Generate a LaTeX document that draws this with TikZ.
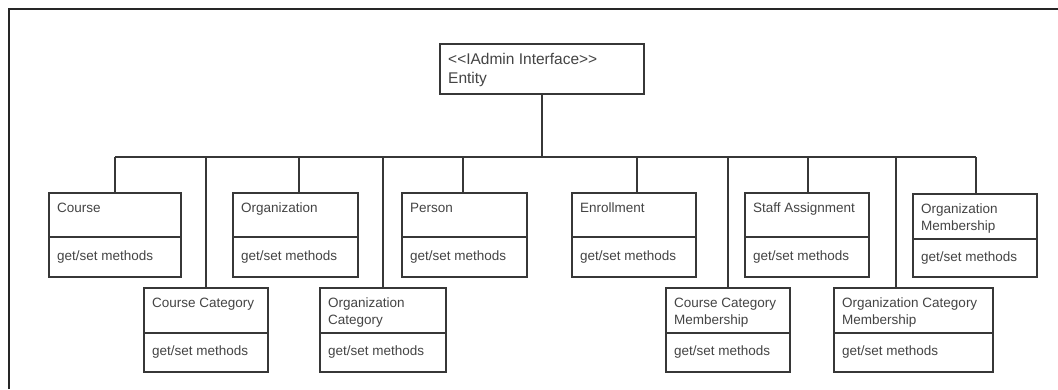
\documentclass[tikz,border=0pt]{standalone}
\usepackage{fontspec}
\setmainfont{Liberation Sans}
\definecolor{linec}{RGB}{55,55,55}
\definecolor{txtc}{RGB}{68,68,68}
\tikzset{
  ln/.style={draw=linec, line width=1.6pt},
  clsbox/.style={ln, rectangle, inner sep=0pt, outer sep=0pt, fill=white},
  ttl/.style={text=txtc, font=\fontsize{13.5}{16.5}\selectfont, align=left, inner sep=0pt},
  meth/.style={text=txtc, font=\fontsize{13.5}{16.5}\selectfont, inner sep=0pt, anchor=west},
  frame/.style={draw=black!85, line width=2pt},
}
\newcommand{\umlclass}[7]{%
  \node[clsbox, anchor=north west, minimum width={(#4-#2)*1pt}, minimum height={(#5-#3)*1pt}] (#1) at (#2,#3) {};
  \coordinate (#1-dl) at (#2,#6);
  \coordinate (#1-dr) at (#4,#6);
  \draw[ln] (#1-dl) -- (#1-dr);
  \node[ttl, anchor=north west] (#1-t) at ({#2+8},{#3+10}) {#7};
  \node[meth] (#1-m) at ({#2+8},{(#6+#5)/2}) {get/set methods};
}
\begin{document}
\begin{tikzpicture}[x=1pt,y=-1pt]
\useasboundingbox[fill=white] (0,0) rectangle (1058,389);
% frame
\coordinate (fbl) at (9,389);
\coordinate (ftl) at (9,9);
\coordinate (ftr) at (1058,9);
\draw[frame] (fbl) -- (ftl) -- (ftr);
% root
\node[clsbox, anchor=north west, minimum width=204pt, minimum height=50pt] (entity) at (440,44) {};
\node[text=txtc, font=\fontsize{15.5}{19}\selectfont, align=left, inner sep=0pt, anchor=north west] (entity-t) at (448,53) {<{}<IAdmin Interface>{}>\\Entity};
% top row
\umlclass{course}{49}{193}{181}{277}{237}{Course}
\umlclass{org}{233}{193}{358}{277}{237}{Organization}
\umlclass{person}{402}{193}{527}{277}{237}{Person}
\umlclass{enroll}{572}{193}{696}{277}{237}{Enrollment}
\umlclass{staff}{745}{193}{869}{277}{237}{Staff Assignment}
\umlclass{om}{913}{194}{1037}{277}{239}{Organization\\Membership}
% bottom row
\umlclass{cc}{144}{288}{268}{372}{333}{Course Category}
\umlclass{oc}{320}{288}{446}{372}{333}{Organization\\Category}
\umlclass{ccm}{666}{288}{790}{372}{333}{Course Category\\Membership}
\umlclass{ocm}{834}{288}{993}{372}{333}{Organization Category\\Membership}
% bus
\coordinate (busL) at (115,157);
\coordinate (busR) at (976,157);
\draw[ln] (busL) -- (busR);
\draw[ln] (entity.south) -- (entity.south |- busL);
\draw[ln] (course.north) -- (course.north |- busL);
\draw[ln] (cc.north) -- (cc.north |- busL);
\draw[ln] ([xshift=3.5pt]org.north) -- ([xshift=3.5pt]org.north |- busL);
\draw[ln] (oc.north) -- (oc.north |- busL);
\draw[ln] ([xshift=-1.5pt]person.north) -- ([xshift=-1.5pt]person.north |- busL);
\draw[ln] ([xshift=3pt]enroll.north) -- ([xshift=3pt]enroll.north |- busL);
\draw[ln] (ccm.north) -- (ccm.north |- busL);
\draw[ln] ([xshift=1pt]staff.north) -- ([xshift=1pt]staff.north |- busL);
\draw[ln] ([xshift=-17.5pt]ocm.north) -- ([xshift=-17.5pt]ocm.north |- busL);
\draw[ln] ([xshift=1pt]om.north) -- ([xshift=1pt]om.north |- busL);
\end{tikzpicture}
\end{document}
